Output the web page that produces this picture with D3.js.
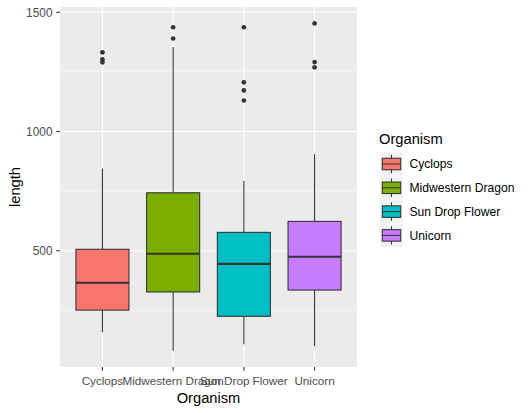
<!DOCTYPE html>
<html>
<head>
<meta charset="utf-8">
<script src="https://cdn.jsdelivr.net/npm/d3@7"></script>
<style>
  body { margin: 0; background: #fff; }
  svg { display: block; font-family: "Liberation Sans", Arial, sans-serif; }
</style>
</head>
<body>
<svg id="chart" width="531" height="413"></svg>
<script>
// values
const organisms = ["Cyclops", "Midwestern Dragon", "Sun Drop Flower", "Unicorn"];
const fills = ["#F8766D", "#7CAE00", "#00BFC4", "#C77CFF"];
const lowerWhisker = [158, 81, 108, 99];
const q1 = [251, 327, 225, 335];
const medians = [366, 487, 445, 475];
const q3 = [506, 743, 577, 623];
const upperWhisker = [845, 1354, 792, 905];
const outliers = [
  [1332, 1302, 1290],
  [1437, 1390],
  [1437, 1206, 1172, 1130],
  [1453, 1291, 1269]
];
const yTicks = [500, 1000, 1500];
const yMinor = [250, 750, 1250];

const svg = d3.select("#chart");
const panel = { left: 60, top: 7, right: 357, bottom: 367 };

// discrete axis: 0.6 of a step at each side, like ggplot
const x = d3.scalePoint()
  .domain(organisms)
  .range([panel.left, panel.right])
  .padding(0.6);
const step = x.step();
const boxW = step * 0.75;

const y = d3.scaleLinear().domain([12.4, 1522]).range([panel.bottom, panel.top]);

const boxes = organisms.map((o, i) => ({
  name: o, fill: fills[i], lo: lowerWhisker[i], q1: q1[i], med: medians[i],
  q3: q3[i], hi: upperWhisker[i], out: outliers[i]
}));

// panel background and grid
svg.append("rect")
  .attr("x", panel.left).attr("y", panel.top)
  .attr("width", panel.right - panel.left).attr("height", panel.bottom - panel.top)
  .attr("fill", "#EBEBEB");

svg.append("g").selectAll("line").data(yMinor).enter().append("line")
  .attr("x1", panel.left).attr("x2", panel.right)
  .attr("y1", d => y(d)).attr("y2", d => y(d))
  .attr("stroke", "#fff").attr("stroke-width", 0.55);

svg.append("g").selectAll("line").data(yTicks).enter().append("line")
  .attr("x1", panel.left).attr("x2", panel.right)
  .attr("y1", d => y(d)).attr("y2", d => y(d))
  .attr("stroke", "#fff").attr("stroke-width", 1.1);

svg.append("g").selectAll("line").data(organisms).enter().append("line")
  .attr("x1", d => x(d)).attr("x2", d => x(d))
  .attr("y1", panel.top).attr("y2", panel.bottom)
  .attr("stroke", "#fff").attr("stroke-width", 1.1);

// boxplots
const g = svg.append("g").selectAll("g").data(boxes).enter().append("g");

g.append("line")
  .attr("x1", d => x(d.name)).attr("x2", d => x(d.name))
  .attr("y1", d => y(d.q3)).attr("y2", d => y(d.hi))
  .attr("stroke", "#333").attr("stroke-width", 1.07);
g.append("line")
  .attr("x1", d => x(d.name)).attr("x2", d => x(d.name))
  .attr("y1", d => y(d.q1)).attr("y2", d => y(d.lo))
  .attr("stroke", "#333").attr("stroke-width", 1.07);

g.append("rect")
  .attr("x", d => x(d.name) - boxW / 2)
  .attr("y", d => y(d.q3))
  .attr("width", boxW)
  .attr("height", d => y(d.q1) - y(d.q3))
  .attr("fill", d => d.fill)
  .attr("stroke", "#333").attr("stroke-width", 1.07);

g.append("line")
  .attr("x1", d => x(d.name) - boxW / 2).attr("x2", d => x(d.name) + boxW / 2)
  .attr("y1", d => y(d.med)).attr("y2", d => y(d.med))
  .attr("stroke", "#333").attr("stroke-width", 2.1);

g.selectAll("circle").data(d => d.out.map(v => ({ name: d.name, v }))).enter().append("circle")
  .attr("cx", d => x(d.name)).attr("cy", d => y(d.v))
  .attr("r", 2.35).attr("fill", "#333");

// axes
const yAxis = svg.append("g");
yAxis.selectAll("line").data(yTicks).enter().append("line")
  .attr("x1", panel.left - 3.7).attr("x2", panel.left)
  .attr("y1", d => y(d)).attr("y2", d => y(d))
  .attr("stroke", "#333").attr("stroke-width", 1.07);
yAxis.selectAll("text").data(yTicks).enter().append("text")
  .attr("x", panel.left - 7.5).attr("y", d => y(d))
  .attr("dy", "0.36em")
  .attr("text-anchor", "end")
  .style("font-size", "11.9px").style("fill", "#4D4D4D")
  .text(d => d);

const xAxis = svg.append("g");
xAxis.selectAll("line").data(organisms).enter().append("line")
  .attr("x1", d => x(d)).attr("x2", d => x(d))
  .attr("y1", panel.bottom).attr("y2", panel.bottom + 3.7)
  .attr("stroke", "#333").attr("stroke-width", 1.07);
xAxis.selectAll("text").data(organisms).enter().append("text")
  .attr("x", d => x(d)).attr("y", panel.bottom + 18)
  .attr("text-anchor", "middle")
  .style("font-size", "11.7px").style("fill", "#4D4D4D")
  .text(d => d);

svg.append("text")
  .attr("x", (panel.left + panel.right) / 2).attr("y", 403)
  .attr("text-anchor", "middle")
  .style("font-size", "14.7px").style("fill", "#000")
  .text("Organism");

svg.append("text")
  .attr("transform", `translate(20,${(panel.top + panel.bottom) / 2}) rotate(-90)`)
  .attr("text-anchor", "middle")
  .style("font-size", "14.7px").style("fill", "#000")
  .text("length");

// legend
const legend = svg.append("g").attr("transform", "translate(380,0)");
legend.append("text")
  .attr("x", -1).attr("y", 144)
  .style("font-size", "14.7px").style("fill", "#000")
  .text("Organism");

const keySize = 23;
const keySpace = 23.8;
const key = legend.selectAll("g.key").data(boxes).enter().append("g")
  .attr("class", "key")
  .attr("transform", (d, i) => `translate(0,${152.5 + i * keySpace})`);

key.append("rect")
  .attr("width", keySize).attr("height", keySize).attr("fill", "#F2F2F2");
key.append("line")
  .attr("x1", keySize / 2).attr("x2", keySize / 2)
  .attr("y1", keySize * 0.1).attr("y2", keySize * 0.9)
  .attr("stroke", "#333").attr("stroke-width", 1.07);
key.append("rect")
  .attr("x", keySize * 0.1).attr("y", keySize * 0.25)
  .attr("width", keySize * 0.8).attr("height", keySize * 0.5)
  .attr("fill", d => d.fill)
  .attr("stroke", "#333").attr("stroke-width", 1.07);
key.append("line")
  .attr("x1", keySize * 0.1).attr("x2", keySize * 0.9)
  .attr("y1", keySize / 2).attr("y2", keySize / 2)
  .attr("stroke", "#333").attr("stroke-width", 1.07);
key.append("text")
  .attr("x", 29.5).attr("y", keySize / 2).attr("dy", "0.36em")
  .style("font-size", "12.1px").style("fill", "#000")
  .text(d => d.name);
</script>
</body>
</html>
